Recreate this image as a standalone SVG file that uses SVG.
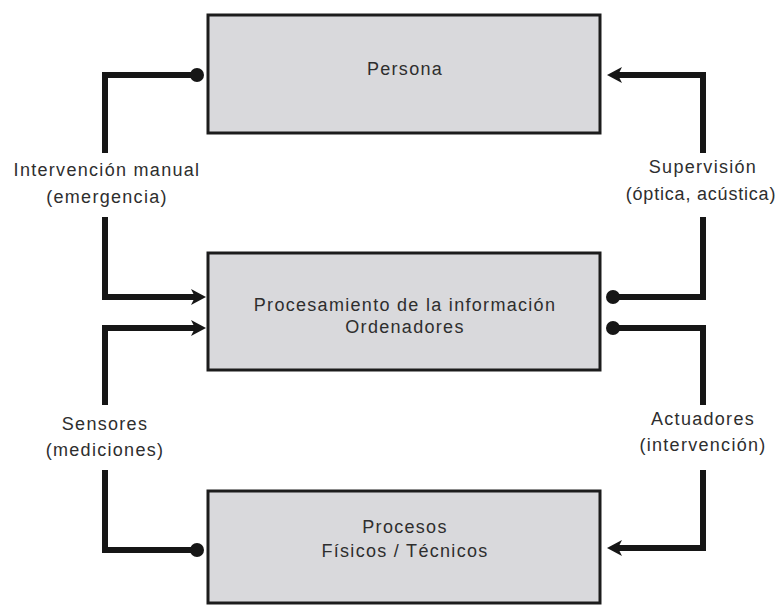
<svg xmlns="http://www.w3.org/2000/svg" width="782" height="606" viewBox="0 0 782 606">
<style>
.box{fill:#d9d9dc;stroke:#1c1c1c;stroke-width:3}
.t{font-family:"Liberation Sans",Arial,sans-serif;font-size:18px;letter-spacing:1.3px;fill:#2e2e2e;text-anchor:middle}
.c{fill:none;stroke:#161616;stroke-width:6;stroke-linejoin:miter}
</style>
<defs>
<marker id="arrow" viewBox="0 0 16 16" refX="7" refY="8" markerWidth="16" markerHeight="16" markerUnits="userSpaceOnUse" orient="auto">
<path d="M1,0 L16,8 L1,16 L5,8 Z" fill="#161616"/>
</marker>
<marker id="dot" viewBox="0 0 14 14" refX="7" refY="7" markerWidth="14" markerHeight="14" markerUnits="userSpaceOnUse" orient="auto">
<circle cx="7" cy="7" r="7" fill="#161616"/>
</marker>
</defs>
<rect width="782" height="606" fill="#ffffff"/>
<g id="connectors">
<path class="c" d="M197,75 H105 V153" marker-start="url(#dot)"/>
<path class="c" d="M105,217 V297 H197" marker-end="url(#arrow)"/>
<path class="c" d="M197,550 H105 V470" marker-start="url(#dot)"/>
<path class="c" d="M105,405 V328 H197" marker-end="url(#arrow)"/>
<path class="c" d="M613,297 H703 V217" marker-start="url(#dot)"/>
<path class="c" d="M703,153 V75 H616" marker-end="url(#arrow)"/>
<path class="c" d="M613,328 H703 V405" marker-start="url(#dot)"/>
<path class="c" d="M703,470 V548 H616" marker-end="url(#arrow)"/>
</g>
<g id="persona">
<rect class="box" x="208" y="15" width="392" height="118"/>
<text class="t" x="405" y="75">Persona</text>
</g>
<g id="procesamiento">
<rect class="box" x="208" y="253" width="392" height="117"/>
<text class="t" x="405" y="311">Procesamiento de la información</text>
<text class="t" x="405" y="333">Ordenadores</text>
</g>
<g id="procesos">
<rect class="box" x="208" y="491" width="392" height="112"/>
<text class="t" x="405" y="533">Procesos</text>
<text class="t" x="405" y="557">Físicos / Técnicos</text>
</g>
<g id="label-intervencion">
<text class="t" x="107" y="176">Intervención manual</text>
<text class="t" x="107" y="203">(emergencia)</text>
</g>
<g id="label-sensores">
<text class="t" x="105" y="430">Sensores</text>
<text class="t" x="105" y="456">(mediciones)</text>
</g>
<g id="label-supervision">
<text class="t" x="703" y="173">Supervisión</text>
<text class="t" x="701" y="200" style="letter-spacing:0.8px">(óptica, acústica)</text>
</g>
<g id="label-actuadores">
<text class="t" x="703" y="425">Actuadores</text>
<text class="t" x="703" y="451">(intervención)</text>
</g>
</svg>
